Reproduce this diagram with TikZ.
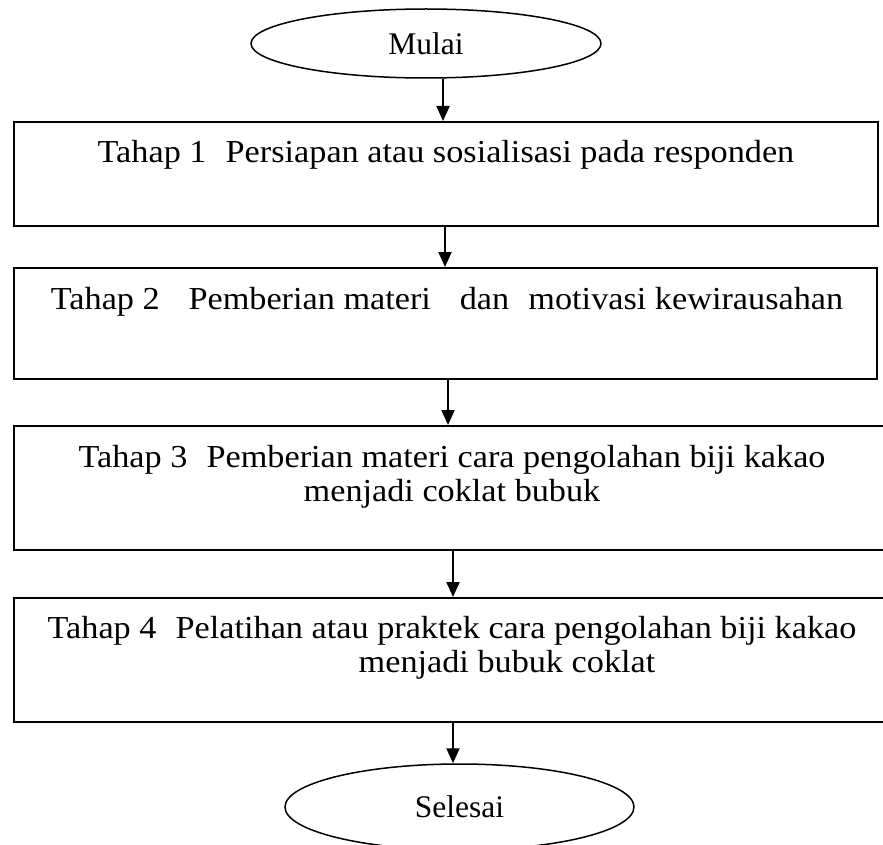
\documentclass[tikz,border=0pt]{standalone}
\usepackage{fontspec}
\setmainfont{Liberation Serif}
\newfontfamily\boxfont[FakeStretch=1.07]{Liberation Serif}
\usetikzlibrary{shapes.geometric,arrows.meta}
\tikzset{
  terminal/.style={ellipse,draw,line width=1.5pt,inner sep=0pt,font=\fontsize{31.5}{31.5}\selectfont},
  stepbox/.style={rectangle,draw,line width=2pt,inner sep=0pt},
  steptext/.style={anchor=base,inner sep=0pt,font=\boxfont\fontsize{32}{32}\selectfont},
  arr/.style={line width=2pt,-{Triangle[length=15pt,width=13pt]}}
}
\begin{document}
\begin{tikzpicture}[x=1pt,y=1pt]
\useasboundingbox (0,0) rectangle (883,-845);
\node[terminal,minimum width=350pt,minimum height=69pt] (m) at (426,-43.5) {Mulai};
\node[stepbox,minimum width=864pt,minimum height=104pt] (b1) at (446,-174) {};
\node[stepbox,minimum width=863pt,minimum height=111pt] (b2) at (445.5,-323.5) {};
\node[stepbox,minimum width=876pt,minimum height=124pt] (b3) at (452,-488) {};
\node[stepbox,minimum width=876pt,minimum height=124pt] (b4) at (452,-660) {};
\node[terminal,minimum width=349pt,minimum height=86pt] (s) at (459.5,-807) {Selesai};
\node[steptext] (t1) at (446,-163) {Tahap 1\hspace{0.6em}Persiapan atau sosialisasi pada responden};
\node[steptext] (t2) at (447,-309) {Tahap 2\hspace{0.9em}Pemberian materi\hspace{0.9em}dan\hspace{0.6em}motivasi kewirausahan};
\node[steptext] (t3a) at (452,-467) {Tahap 3\hspace{0.6em}Pemberian materi cara pengolahan biji kakao};
\node[steptext] (t3b) at (452,-501) {menjadi coklat bubuk};
\node[steptext] (t4a) at (452,-638) {Tahap 4\hspace{0.6em}Pelatihan atau praktek cara pengolahan biji kakao};
\node[steptext] (t4b) at (507,-672) {menjadi bubuk coklat};
\draw[arr] ([xshift=17pt]m.south) -- ([xshift=-3pt]b1.north);
\draw[arr] ([xshift=-1pt]b1.south) -- ([xshift=-0.5pt]b2.north);
\draw[arr] ([xshift=2.5pt]b2.south) -- ([xshift=-4pt]b3.north);
\draw[arr] ([xshift=1pt]b3.south) -- ([xshift=1pt]b4.north);
\draw[arr] ([xshift=1pt]b4.south) -- ([xshift=-6.5pt]s.north);
\end{tikzpicture}
\end{document}
